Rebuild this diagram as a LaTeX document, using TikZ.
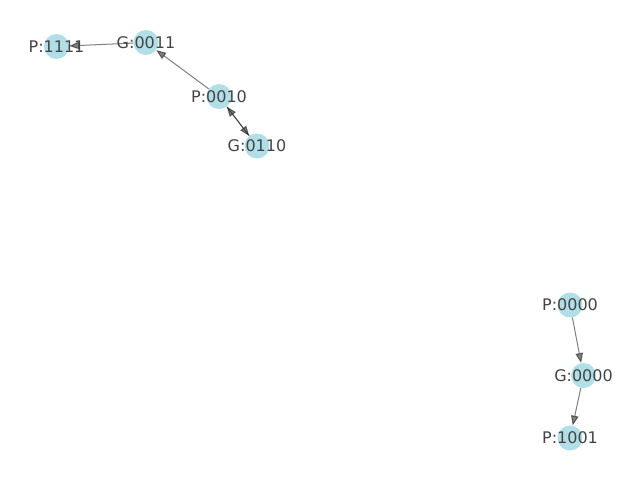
\documentclass[tikz,border=0pt]{standalone}
\usepackage{fontspec}
\setmainfont{DejaVu Sans}
\usetikzlibrary{arrows.meta}

\definecolor{nodeblue}{RGB}{176,223,231}
\definecolor{labelgray}{RGB}{68,68,68}

\begin{document}
\begin{tikzpicture}[x=1pt,y=-1pt,
	vertex/.style={circle, fill=nodeblue, minimum size=25pt, inner sep=0pt},
	edge/.style={draw=black, opacity=0.5, line width=1pt, -{Triangle[length=10pt,width=7.5pt]}},
	tag/.style={text=labelgray, font=\fontsize{16}{19}\selectfont, inner sep=0pt}]

	\useasboundingbox (0,0) rectangle (640,480);

	% vertices
	\node[vertex] (p1111) at (56.5,46.5) {};
	\node[vertex] (g0011) at (146,42.5) {};
	\node[vertex] (p0010) at (219,96.5) {};
	\node[vertex] (g0110) at (257,146) {};
	\node[vertex] (p0000) at (570,305) {};
	\node[vertex] (g0000) at (583.5,375.5) {};
	\node[vertex] (p1001) at (570,438) {};

	% edges
	\draw[edge] (g0011) -- (p1111);
	\draw[edge] (p0010) -- (g0011);
	\draw[edge] (p0010) -- (g0110);
	\draw[edge] (g0110) -- (p0010);
	\draw[edge] (p0000) -- (g0000);
	\draw[edge] (g0000) -- (p1001);

	% labels
	\node[tag] (t-p1111) at (p1111) {P:1111};
	\node[tag] (t-g0011) at (g0011) {G:0011};
	\node[tag] (t-p0010) at (p0010) {P:0010};
	\node[tag] (t-g0110) at (g0110) {G:0110};
	\node[tag] (t-p0000) at (p0000) {P:0000};
	\node[tag] (t-g0000) at (g0000) {G:0000};
	\node[tag] (t-p1001) at (p1001) {P:1001};

\end{tikzpicture}
\end{document}
